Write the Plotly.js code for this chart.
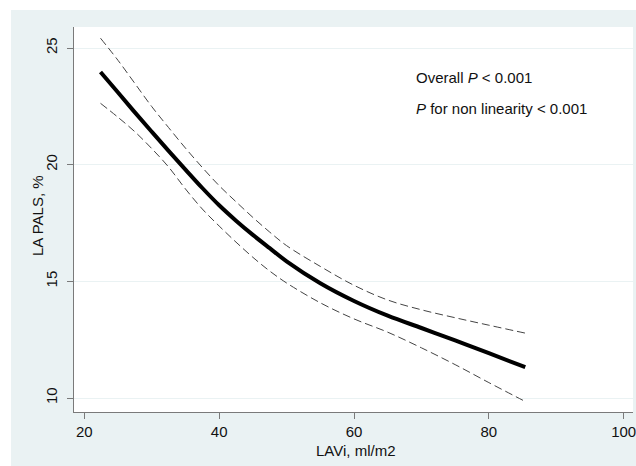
<!DOCTYPE html>
<html>
<head>
<meta charset="utf-8">
<script src="https://cdn.plot.ly/plotly-3.0.1.min.js"></script>
<style>
  html, body { margin: 0; padding: 0; background: #ffffff; }
  #chart { width: 636px; height: 466px; }
</style>
</head>
<body>
<div id="chart"></div>
<script>
// LAVi (ml/m2) grid at which curves were read
const laviX = [22.4, 25, 27.5, 30, 32.5, 35, 37.5, 40, 42.5, 45, 47.5, 50, 55, 60, 65, 70, 75, 80, 85.4];
// Fitted LA PALS (%)
const palsFit = [23.97, 23.09, 22.24, 21.41, 20.59, 19.79, 19.0, 18.26, 17.60, 16.99, 16.42, 15.86, 14.92, 14.16, 13.53, 13.0, 12.47, 11.92, 11.32];
// Upper 95% CI
const palsUpper = [25.42, 24.47, 23.48, 22.49, 21.59, 20.71, 19.88, 19.10, 18.41, 17.74, 17.11, 16.53, 15.64, 14.83, 14.20, 13.78, 13.44, 13.12, 12.78];
// Lower 95% CI
const palsLower = [22.63, 22.03, 21.41, 20.69, 19.90, 18.96, 18.10, 17.37, 16.68, 16.03, 15.44, 14.93, 14.08, 13.39, 12.82, 12.15, 11.43, 10.66, 9.85];

const xTicks = [20, 40, 60, 80, 100];
const yTicks = [10, 15, 20, 25];
const annotLines = ["Overall <i>P</i> < 0.001", "<i>P</i> for non linearity < 0.001"];
const xTitle = "LAVi, ml/m2";
const yTitle = "LA PALS, %";

const FONT = "Liberation Sans, Arial, sans-serif";
const BG = "#eaf2f3";
const AXIS = "#7a7a7a";
const TXT = { family: FONT, size: 15, color: "#111111" };

const traces = [
  { x: laviX, y: palsUpper, mode: "lines", type: "scatter",
    line: { color: "#444444", width: 1, dash: "8px,4px", shape: "spline", smoothing: 1 }, hoverinfo: "skip" },
  { x: laviX, y: palsLower, mode: "lines", type: "scatter",
    line: { color: "#444444", width: 1, dash: "8px,4px", shape: "spline", smoothing: 1 }, hoverinfo: "skip" },
  { x: laviX, y: palsFit, mode: "lines", type: "scatter",
    line: { color: "#000000", width: 4, shape: "spline", smoothing: 1 }, hoverinfo: "skip" }
];

const layout = {
  width: 636, height: 466,
  margin: { l: 74, r: 3, t: 27, b: 54 },
  paper_bgcolor: "#ffffff",
  plot_bgcolor: "#ffffff",
  showlegend: false,
  font: TXT,
  xaxis: {
    range: [18.47, 101.38],
    tickvals: xTicks, ticktext: xTicks.map(String),
    ticklabeloverflow: "allow",
    showgrid: false, zeroline: false,
    showline: true, linecolor: AXIS, linewidth: 1,
    ticks: "outside", ticklen: 6, tickcolor: AXIS, tickwidth: 1,
    tickfont: TXT
  },
  yaxis: {
    range: [9.40, 25.90],
    tickvals: yTicks, ticktext: yTicks.map(String),
    tickangle: -90,
    ticklabelstandoff: 4,
    showgrid: true, gridcolor: BG, gridwidth: 1,
    zeroline: false,
    showline: true, linecolor: AXIS, linewidth: 1,
    ticks: "outside", ticklen: 6, tickcolor: AXIS, tickwidth: 1,
    tickfont: TXT
  },
  shapes: [
    { type: "rect", xref: "paper", yref: "paper", layer: "below",
      x0: (11 - 74) / 559, x1: (640 - 74) / 559,
      y0: (412 - 470) / 385, y1: (412 - 10) / 385,
      fillcolor: BG, line: { width: 0 } },
    { type: "rect", xref: "paper", yref: "paper", layer: "below",
      x0: 0, x1: 1, y0: 0, y1: 1,
      fillcolor: "#ffffff", line: { width: 0 } }
  ],
  annotations: [
    { xref: "paper", yref: "y", x: (414 - 74) / 559, y: 23.75, xanchor: "left", yanchor: "middle",
      text: annotLines[0], showarrow: false, font: TXT },
    { xref: "paper", yref: "y", x: (414 - 74) / 559, y: 22.40, xanchor: "left", yanchor: "middle",
      text: annotLines[1], showarrow: false, font: TXT },
    // x-axis title
    { xref: "paper", yref: "paper", x: (355 - 74) / 559, y: (412 - 451) / 385,
      xanchor: "center", yanchor: "middle", text: xTitle, showarrow: false, font: TXT },
    // y-axis title
    { xref: "paper", yref: "paper", x: (37 - 74) / 559, y: (412 - 216) / 385,
      xanchor: "center", yanchor: "middle", textangle: -90, text: yTitle, showarrow: false, font: TXT }
  ]
};

Plotly.newPlot("chart", traces, layout, { displayModeBar: false, staticPlot: true });
</script>
</body>
</html>
